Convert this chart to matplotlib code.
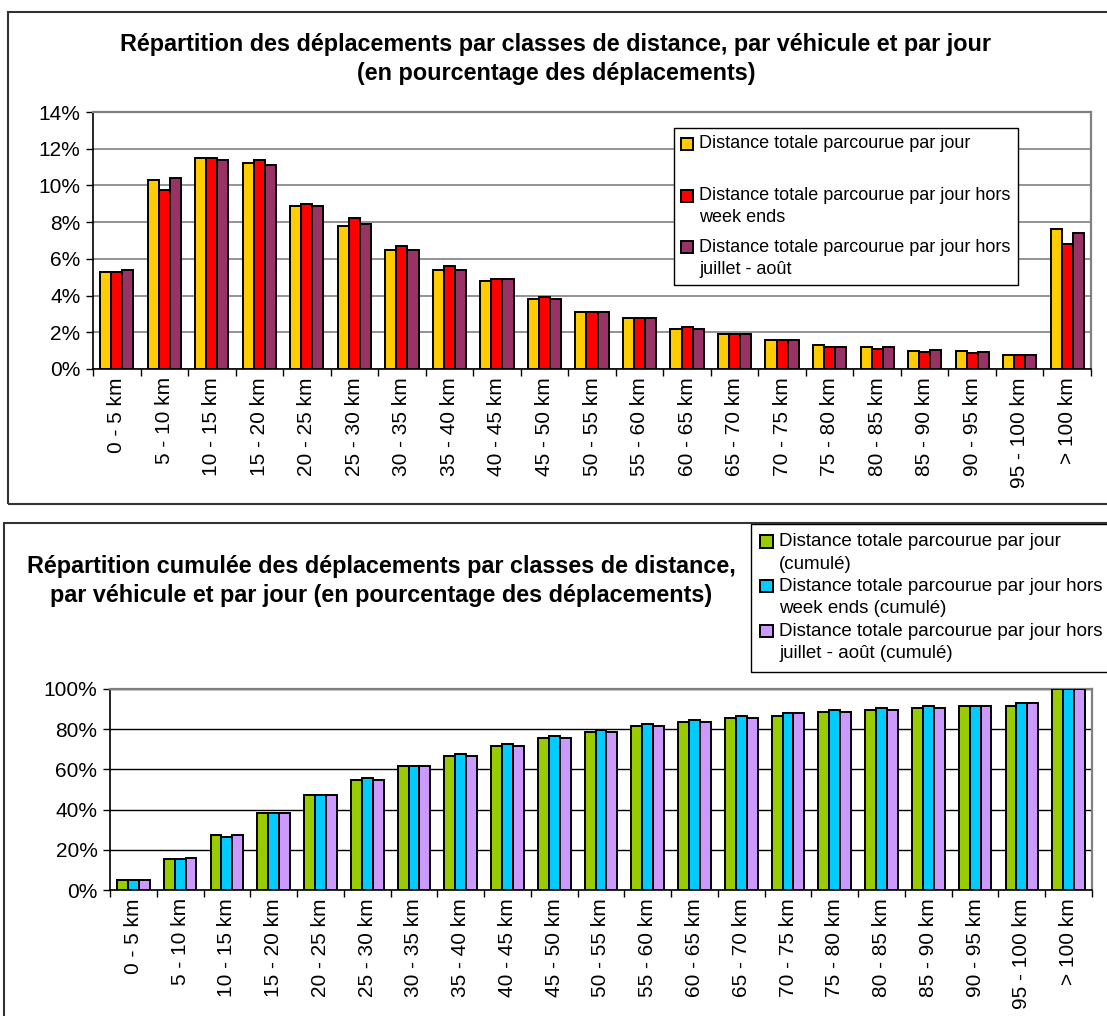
import matplotlib
matplotlib.use("Agg")
import matplotlib.pyplot as plt
import numpy as np
from matplotlib.patches import Rectangle
from matplotlib.container import BarContainer
from matplotlib.legend_handler import HandlerPatch, update_from_first_child

plt.rcParams['font.family'] = ['Liberation Sans', 'DejaVu Sans']

# Classes de distance
classes = ['0 - 5 km', '5 - 10 km', '10 - 15 km', '15 - 20 km', '20 - 25 km',
           '25 - 30 km', '30 - 35 km', '35 - 40 km', '40 - 45 km', '45 - 50 km',
           '50 - 55 km', '55 - 60 km', '60 - 65 km', '65 - 70 km', '70 - 75 km',
           '75 - 80 km', '80 - 85 km', '85 - 90 km', '90 - 95 km', '95 - 100 km',
           '> 100 km']

# Répartition (%)
total = [5.3, 10.3, 11.5, 11.2, 8.9, 7.8, 6.5, 5.4, 4.8, 3.8, 3.1,
         2.8, 2.2, 1.9, 1.6, 1.3, 1.2, 1.0, 1.0, 0.75, 7.6]
hors_we = [5.3, 9.75, 11.5, 11.4, 9.0, 8.25, 6.7, 5.6, 4.9, 3.9, 3.1,
           2.8, 2.3, 1.9, 1.6, 1.2, 1.1, 0.95, 0.85, 0.75, 6.8]
hors_ete = [5.4, 10.4, 11.4, 11.1, 8.9, 7.9, 6.5, 5.4, 4.9, 3.8, 3.1,
            2.8, 2.2, 1.9, 1.6, 1.2, 1.2, 1.05, 0.95, 0.75, 7.4]

# Répartition cumulée (%)
cumul_total = [5.2, 15.3, 27.4, 38.4, 47.3, 54.5, 61.5, 66.6, 71.6, 75.6, 78.7,
               81.7, 83.7, 85.7, 86.7, 88.7, 89.7, 90.7, 91.7, 91.7, 100]
cumul_hors_we = [5.2, 15.3, 26.4, 38.4, 47.3, 55.5, 61.5, 67.6, 72.6, 76.6, 79.7,
                 82.7, 84.7, 86.7, 87.9, 89.7, 90.7, 91.7, 91.7, 92.9, 100]
cumul_hors_ete = [5.2, 16.1, 27.4, 38.4, 47.3, 54.5, 61.5, 66.6, 71.6, 75.6, 78.7,
                  81.7, 83.7, 85.7, 87.9, 88.7, 89.7, 90.7, 91.7, 92.9, 100]

labels_top = ['Distance totale parcourue par jour\n',
              'Distance totale parcourue par jour hors\nweek ends',
              'Distance totale parcourue par jour hors\njuillet - août']
labels_bot = ['Distance totale parcourue par jour\n(cumulé)',
              'Distance totale parcourue par jour hors\nweek ends (cumulé)',
              'Distance totale parcourue par jour hors\njuillet - août (cumulé)']

W, H = 1107, 1016
fig = plt.figure(figsize=(W / 100, H / 100), dpi=100)

# cadres des deux graphiques
fig.patches.append(Rectangle((8 / W, 1 - 504 / H), 1.2, (504 - 12) / H, fill=False,
                             ec='#333333', lw=1.5, transform=fig.transFigure))
fig.patches.append(Rectangle((4 / W, -0.2), 1.2, 0.2 + (1016 - 523) / H, fill=False,
                             ec='#333333', lw=1.5, transform=fig.transFigure))


def bar_chart(ax, series, colors, ymax, step, grid_color):
    x = np.arange(len(classes))
    w = 0.233
    for i, (vals, col) in enumerate(zip(series, colors)):
        ax.bar(x + (i - 1) * w, vals, w, color=col, edgecolor='black', lw=1.4, zorder=3)
    ax.set_xlim(-0.5, len(classes) - 0.5)
    ax.set_ylim(0, ymax)
    ax.set_yticks(np.arange(0, ymax + 0.01, step))
    ax.set_yticklabels([f'{int(v)}%' for v in np.arange(0, ymax + 0.01, step)], fontsize=15)
    ax.yaxis.grid(True, color=grid_color, lw=1.2, zorder=0)
    ax.set_xticks(np.arange(-0.5, len(classes), 1))
    ax.set_xticklabels([])
    ax.set_xticks(x, minor=True)
    ax.set_xticklabels(classes, minor=True, rotation=90, fontsize=15)
    ax.tick_params(axis='x', which='minor', length=0, pad=6)
    ax.tick_params(axis='x', which='major', length=5, color='black', width=1)
    ax.tick_params(axis='y', length=5, width=1, pad=4)
    for s in ('left', 'bottom'):
        ax.spines[s].set_color('black')
        ax.spines[s].set_linewidth(1.2)
    for s in ('top', 'right'):
        ax.spines[s].set_color('#808080')
        ax.spines[s].set_linewidth(1.6)


# carré de légende aligné sur la première ligne du texte
def top_square(legend, orig_handle, xdescent, ydescent, width, height, fontsize):
    return Rectangle((-xdescent, -ydescent + 0.62 * fontsize), width, height)


def make_legend(ax, labels, anchor, size, spacing, pad):
    leg = ax.legend(labels, loc='upper left', bbox_to_anchor=anchor,
                    bbox_transform=fig.transFigure, fontsize=size, frameon=True,
                    fancybox=False, edgecolor='black', framealpha=1,
                    handlelength=0.65, handleheight=0.65, handletextpad=0.35,
                    borderpad=pad, labelspacing=spacing, borderaxespad=0,
                    handler_map={BarContainer: HandlerPatch(patch_func=top_square,
                                                            update_func=update_from_first_child)})
    leg.get_frame().set_linewidth(1)
    for t in leg.get_texts():
        t.set_linespacing(1.4)
    return leg


# Graphique du haut
ax1 = fig.add_axes([93 / W, 1 - 369 / H, (1091 - 93) / W, (369 - 112) / H])
bar_chart(ax1, [total, hors_we, hors_ete], ['#FFCC00', '#FF0000', '#993366'], 14, 2, '#808080')
fig.text(556 / W, 1 - 59 / H,
         'Répartition des déplacements par classes de distance, par véhicule et par jour\n'
         '(en pourcentage des déplacements)',
         ha='center', va='center', fontsize=16.8, fontweight='bold', linespacing=1.3)
make_legend(ax1, labels_top, (674 / W, 1 - 128 / H), 13, 0.7, 0.4)

# Graphique du bas
ax2 = fig.add_axes([110 / W, 1 - 890 / H, (1092 - 110) / W, (890 - 689) / H])
bar_chart(ax2, [cumul_total, cumul_hors_we, cumul_hors_ete],
          ['#99CC00', '#00CCFF', '#CC99FF'], 100, 20, 'black')
ax2.yaxis.grid(True, color='black', lw=1)
fig.text(381 / W, 1 - 581 / H,
         'Répartition cumulée des déplacements par classes de distance,\n'
         'par véhicule et par jour (en pourcentage des déplacements)',
         ha='center', va='center', fontsize=16.8, fontweight='bold', linespacing=1.3)
make_legend(ax2, labels_bot, (751 / W, 1 - 524 / H), 13.5, 0.3, 0.5)

fig.savefig('out.png', dpi=100)
